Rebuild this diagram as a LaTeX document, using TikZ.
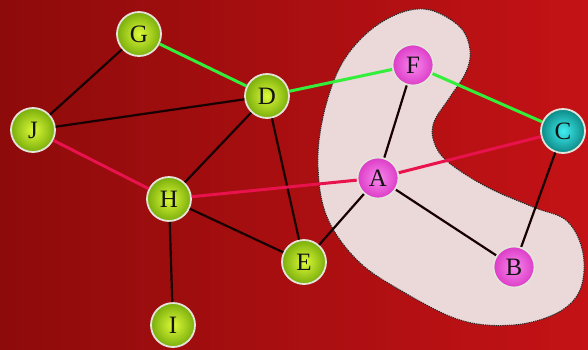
\documentclass[tikz,border=0pt]{standalone}
\usepackage{fontspec}
\setmainfont{Liberation Serif}
\definecolor{bgleft}{HTML}{8E0B0B}
\definecolor{bgright}{HTML}{C41216}
\definecolor{blobfill}{HTML}{EBD8D8}
\definecolor{linkgreen}{HTML}{33EE3A}
\definecolor{linkred}{HTML}{E8124C}
\definecolor{ringcol}{HTML}{E4E4DA}
\definecolor{ginner}{HTML}{DDFA38}
\definecolor{gouter}{HTML}{7AAE0C}
\definecolor{minner}{HTML}{F888EE}
\definecolor{mouter}{HTML}{DC3CC6}
\definecolor{cinner}{HTML}{40EEF2}
\definecolor{couter}{HTML}{0C8A86}
\begin{document}
\begin{tikzpicture}[x=1pt,y=-1pt,
  vert/.style={circle,draw=ringcol,line width=1.8pt,inner sep=0pt,
    font=\fontsize{25}{25}\selectfont,text=black!92},
  gnode/.style={vert,minimum size=44pt,shading=radial,inner color=ginner,outer color=gouter},
  mnode/.style={vert,minimum size=41pt,shading=radial,inner color=minner,outer color=mouter},
  cnode/.style={vert,minimum size=44pt,shading=radial,inner color=cinner,outer color=couter},
  plain/.style={draw=black!90!red,line width=2.2pt},
  greenedge/.style={draw=linkgreen,line width=3pt},
  rededge/.style={draw=linkred,line width=3pt},
]
% background
\useasboundingbox (0,0) rectangle (588,349);
\shade[left color=bgleft,right color=bgright] (0,0) rectangle (588,349);

% highlighted region
\draw[fill=blobfill,draw=black!85,line width=1pt,dash pattern=on 1.3pt off 0.9pt]
  plot[smooth cycle,tension=0.6] coordinates {
    (430,10) (460,27) (470,50) (466,72) (450,97) (434,122) (434,142)
    (448,162) (487,187) (533,207) (567,221) (583,253) (580,290)
    (557,313) (513,325) (460,320) (400,290) (357,260) (327,217)
    (318,167) (323,117) (340,67) (367,33) (400,13)};

% vertices
\node[gnode] (G) at (139,34) {G};
\node[gnode] (D) at (267,96) {D};
\node[gnode] (J) at (33,130) {J};
\node[gnode] (H) at (169,199) {H};
\node[gnode] (E) at (304,262) {E};
\node[gnode] (I) at (173,325) {I};
\node[mnode] (F) at (413,65) {F};
\node[mnode] (A) at (378,178) {A};
\node[mnode] (B) at (514,267) {B};
\node[cnode] (C) at (563,131) {C};

% edges
\path[plain] (G) -- (J);
\path[plain] (J) -- (D);
\path[plain] (D) -- (H);
\path[plain] (D) -- (E);
\path[plain] (H) -- (E);
\path[plain] (H) -- (I);
\path[plain] (F) -- (A);
\path[plain] (A) -- (E);
\path[plain] (A) -- (B);
\path[plain] (C) -- (B);
\path[greenedge] (G) -- (D);
\path[greenedge] (D) -- (F);
\path[greenedge] (F) -- (C);
\path[rededge] (J) -- (H);
\path[rededge] (H) -- (A);
\path[rededge] (A) -- (C);
\end{tikzpicture}
\end{document}
